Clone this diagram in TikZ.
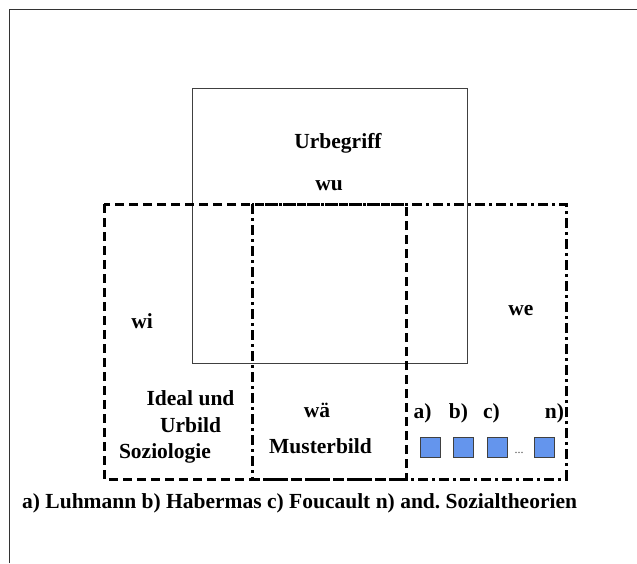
\documentclass[tikz,border=0pt]{standalone}
\usepackage{fontspec}
\setmainfont{Liberation Serif}
\begin{document}
\frenchspacing
\begin{tikzpicture}[x=1pt,y=-1pt,
  lbl/.style={anchor=base,inner sep=0pt,font=\fontsize{21.5}{26}\selectfont\bfseries},
  dashbox/.style={line width=3pt,dash pattern=on 9pt off 5pt},
  dashdotbox/.style={line width=3pt,dash pattern=on 10pt off 4pt on 3pt off 4pt},
  sq/.style={draw=black!75,line width=0.8pt,fill={rgb,255:red,100;green,149;blue,237},minimum size=20pt,inner sep=0pt},
  frameline/.style={draw=black!80,line width=1pt}]
\useasboundingbox (0,0) rectangle (637,563);
\fill[white] (0,0) rectangle (637,563);
% outer frame (top and left only)
\draw[frameline] (9,563) -- (9,9) -- (637,9);
% Urbegriff box
\draw[draw=black!75,line width=1pt] (192,88) rectangle (467,363);
% dashed boxes
\draw[dashbox] (104,204) rectangle (406,479);
\draw[dashdotbox] (252,204) rectangle (566,479);
% texts
\node[lbl] (urb) at (338,148) {Urbegriff};
\node[lbl] (wu) at (329,190) {wu};
\node[lbl] (wi) at (142,328) {wi};
\node[lbl] (we) at (521,315) {we};
\node[lbl] (ideal) at (190.5,405) {Ideal und};
\node[lbl] (urbild) at (190.5,432) {Urbild};
\node[lbl] (soz) at (165,458) {Soziologie};
\node[lbl] (wae) at (317,417) {wä};
\node[lbl] (muster) at (320.5,453) {Musterbild};
\node[lbl] (la) at (422.5,418) {a)};
\node[lbl] (lb) at (458.5,418) {b)};
\node[lbl] (lc) at (491.5,418) {c)};
\node[lbl] (ln) at (554.5,418) {n)};
\node[sq] (sa) at (430,447.5) {};
\node[sq] (sb) at (463,447.5) {};
\node[sq] (sc) at (497,447.5) {};
\node[sq] (sn) at (544,447.5) {};
\node[anchor=base,inner sep=0pt,font=\fontsize{12}{14}\selectfont,text=black!70] (dots) at (519,453) {...};
\node[lbl,anchor=base west] (cap) at (22,508) {a) Luhmann b) Habermas c) Foucault n) and. Sozialtheorien};
\end{tikzpicture}
\end{document}
